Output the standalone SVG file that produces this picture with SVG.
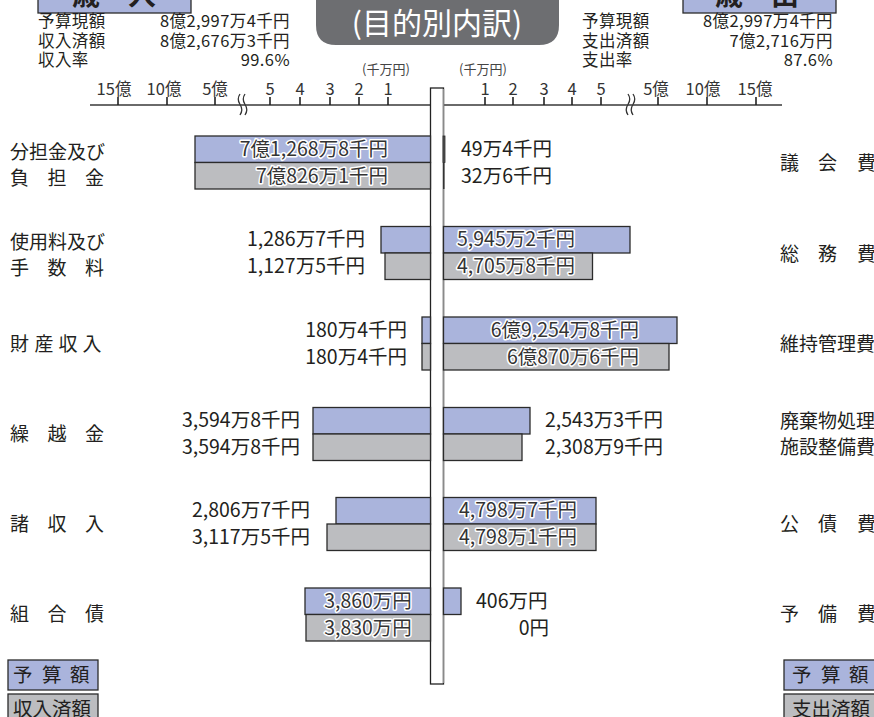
<svg xmlns="http://www.w3.org/2000/svg" width="874" height="717" viewBox="0 0 874 717">
<defs>
<style>
text{font-family:"Noto Sans CJK JP","Noto Sans",sans-serif;fill:#231f20}
.lbl{font-size:19px}
.val{font-size:19.5px}
.in{font-size:19.5px;paint-order:stroke;stroke:#fff;stroke-width:3px;stroke-linejoin:round;fill:#333}
.hd{font-size:16.5px;letter-spacing:0.4px}
.tk{font-size:16.5px;fill:#333}
.unit{font-size:13px;fill:#444}
.b{fill:#aab4dc;stroke:#2b2b2b;stroke-width:1.3}
.g{fill:#bcbdc0;stroke:#2b2b2b;stroke-width:1.3}
.tick{stroke:#222;stroke-width:1.6}
.axis{stroke:#6a6a6a;stroke-width:2;fill:none}
.brk{stroke:#333;stroke-width:1.3;fill:none}
</style>
</defs>
<rect width="874" height="717" fill="#fff"/>

<g id="header-left">
<rect class="b" x="38" y="-20" width="153" height="33"/>
<text x="114" y="5" text-anchor="middle" style="font-size:28px;font-weight:bold">歳　入</text>
<text class="hd" x="38" y="27">予算現額</text><text class="hd" x="290" y="27" text-anchor="end">8億2,997万4千円</text>
<text class="hd" x="38" y="47">収入済額</text><text class="hd" x="290" y="47" text-anchor="end">8億2,676万3千円</text>
<text class="hd" x="38" y="66">収入率</text><text class="hd" x="290" y="66" text-anchor="end">99.6%</text>
</g>

<g id="header-right">
<rect class="b" x="683" y="-20" width="153" height="33"/>
<text x="757" y="5" text-anchor="middle" style="font-size:28px;font-weight:bold">歳　出</text>
<text class="hd" x="582" y="27">予算現額</text><text class="hd" x="833" y="27" text-anchor="end">8億2,997万4千円</text>
<text class="hd" x="582" y="47">支出済額</text><text class="hd" x="833" y="47" text-anchor="end">7億2,716万円</text>
<text class="hd" x="582" y="66">支出率</text><text class="hd" x="833" y="66" text-anchor="end">87.6%</text>
</g>

<g id="title">
<path d="M316,-5 H559 V25 Q559,45 539,45 H336 Q316,45 316,25 Z" fill="#6d6e71"/>
<text x="437" y="34" text-anchor="middle" style="font-size:30px;fill:#fff">(目的別内訳)</text>
</g>

<g id="axis">
<line class="axis" x1="90" y1="105" x2="430" y2="105"/>
<line class="axis" x1="443" y1="105" x2="782" y2="105"/>
<path class="brk" d="M240,94 q-3.5,5 0,10.5 q3.5,5 0,10.5 M245,94 q-3.5,5 0,10.5 q3.5,5 0,10.5"/>
<path class="brk" d="M628,94 q3.5,5 0,10.5 q-3.5,5 0,10.5 M633,94 q3.5,5 0,10.5 q-3.5,5 0,10.5"/>
<g class="tick">
<line x1="118" y1="97" x2="118" y2="105"/><line x1="167" y1="97" x2="167" y2="105"/><line x1="215" y1="97" x2="215" y2="105"/>
<line x1="270" y1="97" x2="270" y2="105"/><line x1="300" y1="97" x2="300" y2="105"/><line x1="330" y1="97" x2="330" y2="105"/><line x1="359" y1="97" x2="359" y2="105"/><line x1="388" y1="97" x2="388" y2="105"/>
<line x1="485" y1="97" x2="485" y2="105"/><line x1="513" y1="97" x2="513" y2="105"/><line x1="544" y1="97" x2="544" y2="105"/><line x1="572" y1="97" x2="572" y2="105"/><line x1="601" y1="97" x2="601" y2="105"/>
<line x1="658" y1="97" x2="658" y2="105"/><line x1="707" y1="97" x2="707" y2="105"/><line x1="756" y1="97" x2="756" y2="105"/>
</g>
<g class="tk" text-anchor="middle">
<text class="tk" x="114" y="95">15億</text><text class="tk" x="164" y="95">10億</text><text class="tk" x="215" y="95">5億</text>
<text class="tk" x="270" y="95">5</text><text class="tk" x="300" y="95">4</text><text class="tk" x="330" y="95">3</text><text class="tk" x="359" y="95">2</text><text class="tk" x="388" y="95">1</text>
<text class="tk" x="485" y="95">1</text><text class="tk" x="513" y="95">2</text><text class="tk" x="544" y="95">3</text><text class="tk" x="572" y="95">4</text><text class="tk" x="601" y="95">5</text>
<text class="tk" x="656" y="95">5億</text><text class="tk" x="703" y="95">10億</text><text class="tk" x="755" y="95">15億</text>
<text class="unit" x="386" y="74">(千万円)</text><text class="unit" x="483" y="74">(千万円)</text>
</g>
</g>

<g id="center-column">
<rect x="430.5" y="88" width="13" height="596" fill="#fff" stroke="#222" stroke-width="1.3"/>
<line x1="443.5" y1="89" x2="443.5" y2="683" stroke="#8a8a8a" stroke-width="1.5"/>
</g>

<g id="row1">
<rect class="b" x="195" y="136" width="235.5" height="26.5"/>
<rect class="g" x="195" y="162.5" width="235.5" height="26.5"/>
<rect x="443" y="136" width="2" height="26.5" fill="#555" stroke="#2b2b2b" stroke-width="0.8"/>
<rect x="443" y="162.5" width="1.5" height="26.5" fill="#333"/>
<text class="in" x="388" y="156" text-anchor="end">7億1,268万8千円</text>
<text class="in" x="388" y="183" text-anchor="end">7億826万1千円</text>
<text class="val" x="461" y="156">49万4千円</text>
<text class="val" x="461" y="183">32万6千円</text>
<text class="lbl" x="10" y="159">分担金及び</text>
<text class="lbl" x="10 47.5 85" y="185">負担金</text>
<text class="lbl" x="780 818 857" y="170">議会費</text>
</g>

<g id="row2">
<rect class="b" x="381" y="226.5" width="49.5" height="26.5"/>
<rect class="g" x="385" y="253" width="45.5" height="26.5"/>
<rect class="b" x="443.5" y="226.5" width="186.5" height="26.5"/>
<rect class="g" x="443.5" y="253" width="149" height="26.5"/>
<text class="val" x="365" y="246" text-anchor="end">1,286万7千円</text>
<text class="val" x="365" y="273" text-anchor="end">1,127万5千円</text>
<text class="in" x="457" y="246">5,945万2千円</text>
<text class="in" x="457" y="273">4,705万8千円</text>
<text class="lbl" x="10" y="249">使用料及び</text>
<text class="lbl" x="10 47.5 85" y="275">手数料</text>
<text class="lbl" x="780 818 857" y="261">総務費</text>
</g>

<g id="row3">
<rect class="b" x="422" y="317" width="8.5" height="26.5"/>
<rect class="g" x="422" y="343.5" width="8.5" height="26.5"/>
<rect class="b" x="443.5" y="317" width="233.5" height="26.5"/>
<rect class="g" x="443.5" y="343.5" width="225.5" height="26.5"/>
<text class="val" x="407" y="337" text-anchor="end">180万4千円</text>
<text class="val" x="407" y="364" text-anchor="end">180万4千円</text>
<text class="in" x="639" y="337" text-anchor="end">6億9,254万8千円</text>
<text class="in" x="639" y="364" text-anchor="end">6億870万6千円</text>
<text class="lbl" x="10 34.5 58.5 82.5" y="351">財産収入</text>
<text class="lbl" x="780" y="351">維持管理費</text>
</g>

<g id="row4">
<rect class="b" x="313" y="407.5" width="117.5" height="26.5"/>
<rect class="g" x="313" y="434" width="117.5" height="26.5"/>
<rect class="b" x="443.5" y="407.5" width="86.5" height="26.5"/>
<rect class="g" x="443.5" y="434" width="78.5" height="26.5"/>
<text class="val" x="300" y="427" text-anchor="end">3,594万8千円</text>
<text class="val" x="300" y="454" text-anchor="end">3,594万8千円</text>
<text class="val" x="545" y="427">2,543万3千円</text>
<text class="val" x="545" y="454">2,308万9千円</text>
<text class="lbl" x="10 47.5 85" y="441">繰越金</text>
<text class="lbl" x="780" y="428">廃棄物処理</text>
<text class="lbl" x="780" y="454">施設整備費</text>
</g>

<g id="row5">
<rect class="b" x="336" y="497.5" width="94.5" height="26.5"/>
<rect class="g" x="327" y="524" width="103.5" height="26.5"/>
<rect class="b" x="443.5" y="497.5" width="152.5" height="26.5"/>
<rect class="g" x="443.5" y="524" width="152.5" height="26.5"/>
<text class="val" x="310" y="517" text-anchor="end">2,806万7千円</text>
<text class="val" x="310" y="544" text-anchor="end">3,117万5千円</text>
<text class="in" x="459" y="517">4,798万7千円</text>
<text class="in" x="459" y="544">4,798万1千円</text>
<text class="lbl" x="10 47.5 85" y="531">諸収入</text>
<text class="lbl" x="780 818 857" y="531">公債費</text>
</g>

<g id="row6">
<rect class="b" x="305" y="588" width="125.5" height="26.5"/>
<rect class="g" x="306" y="614.5" width="124.5" height="26.5"/>
<rect class="b" x="443.5" y="588" width="17.5" height="26.5"/>
<text class="in" x="368" y="608" text-anchor="middle">3,860万円</text>
<text class="in" x="368" y="635" text-anchor="middle">3,830万円</text>
<text class="val" x="476" y="608">406万円</text>
<text class="val" x="549" y="635" text-anchor="end">0円</text>
<text class="lbl" x="10 47.5 85" y="621">組合債</text>
<text class="lbl" x="780 818 857" y="621">予備費</text>
</g>

<g id="legend-left">
<rect class="b" x="8" y="660" width="90" height="30"/>
<text class="lbl" x="13 42 70" y="682" style="font-size:19.5px">予算額</text>
<rect class="g" x="8" y="694" width="90" height="30"/>
<text class="lbl" x="13" y="716" style="font-size:19.5px">収入済額</text>
</g>

<g id="legend-right">
<rect class="b" x="784" y="660" width="100" height="30"/>
<text class="lbl" x="792 821 849" y="682" style="font-size:19.5px">予算額</text>
<rect class="g" x="784" y="694" width="100" height="30"/>
<text class="lbl" x="792" y="716" style="font-size:19.5px">支出済額</text>
</g>
</svg>
